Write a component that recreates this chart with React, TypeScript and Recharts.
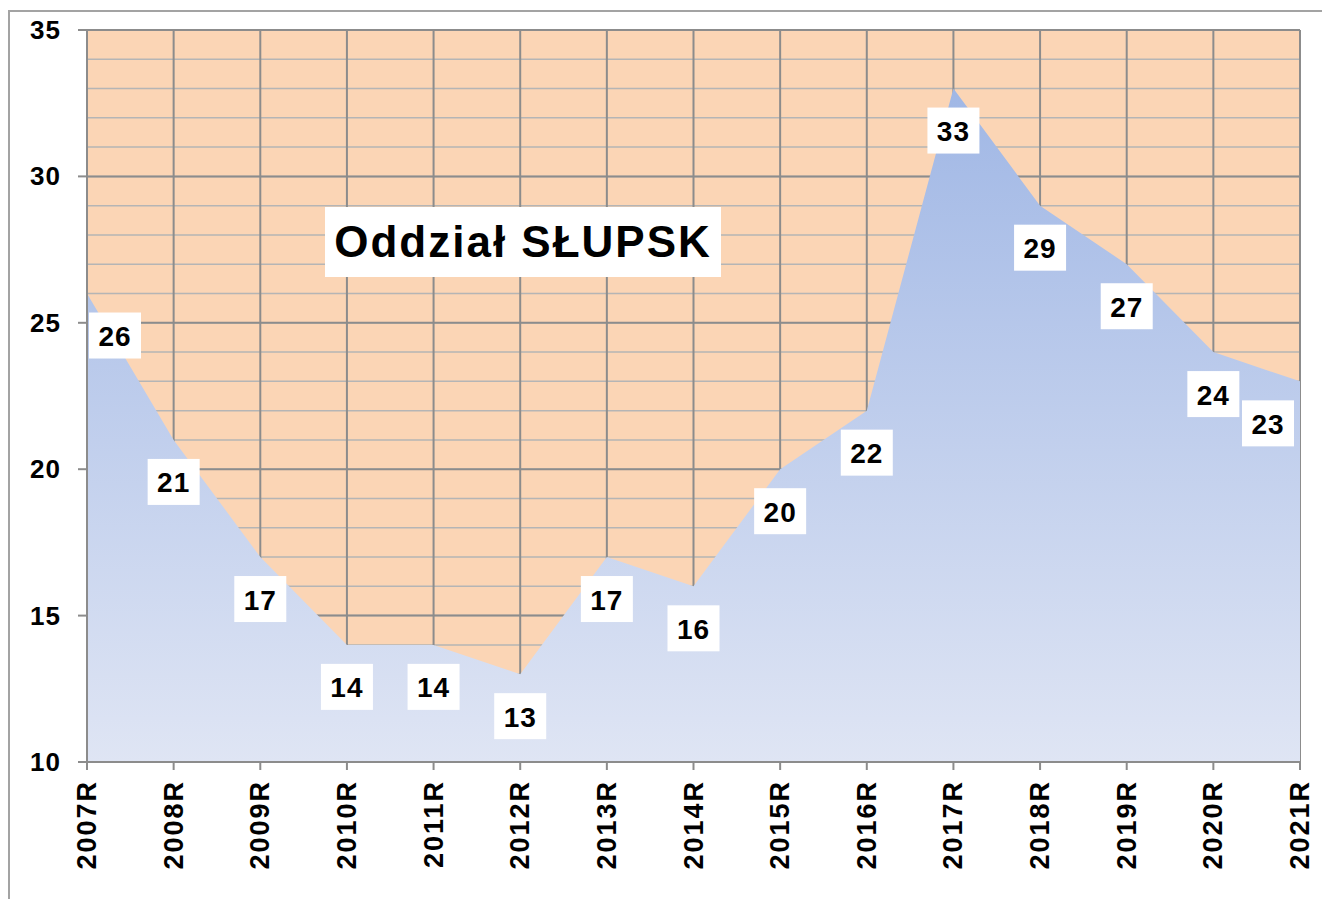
import { AreaChart, Area, XAxis, YAxis, CartesianGrid, LabelList } from "recharts";

const years = [
  "2007R", "2008R", "2009R", "2010R", "2011R", "2012R", "2013R", "2014R",
  "2015R", "2016R", "2017R", "2018R", "2019R", "2020R", "2021R",
];
const counts = [26, 21, 17, 14, 14, 13, 17, 16, 20, 22, 33, 29, 27, 24, 23];
const majorTicks = [10, 15, 20, 25, 30, 35];
const minorTicks = [
  10, 11, 12, 13, 14, 15, 16, 17, 18, 19, 20, 21, 22,
  23, 24, 25, 26, 27, 28, 29, 30, 31, 32, 33, 34, 35,
];
const chartTitle = "Oddział SŁUPSK";

const chartData = years.map((year, i) => ({ year, count: counts[i] }));

const font = "Arial, 'Liberation Sans', sans-serif";
const axisGray = "#8c8c8c";

function YearTick({ x, y, payload }: any) {
  return (
    <text
      x={x}
      y={y}
      transform={`rotate(-90 ${x} ${y})`}
      textAnchor="end"
      dominantBaseline="central"
      fontFamily={font}
      fontWeight="bold"
      fontSize={27}
      letterSpacing={2}
      fill="#000"
    >
      {payload.value}
    </text>
  );
}

function ValueTick({ x, y, payload }: any) {
  return (
    <text
      x={x}
      y={y}
      textAnchor="end"
      dominantBaseline="central"
      fontFamily={font}
      fontWeight="bold"
      fontSize={26}
      letterSpacing={1}
      fill="#000"
    >
      {payload.value}
    </text>
  );
}

function ValueLabel({ x, y, value, index }: any) {
  let cx = x;
  if (index === 0) cx = x + 28;
  if (index === counts.length - 1) cx = x - 32;
  const cy = y + 42;
  return (
    <g>
      <rect x={cx - 26} y={cy - 23} width={52} height={46} fill="#fff" />
      <text
        x={cx}
        y={cy + 1}
        textAnchor="middle"
        dominantBaseline="central"
        fontFamily={font}
        fontWeight="bold"
        fontSize={28}
        letterSpacing={1}
        fill="#000"
      >
        {value}
      </text>
    </g>
  );
}

export default function App() {
  return (
    <div
      style={{
        position: "fixed",
        left: 0,
        top: 0,
        width: 1322,
        height: 899,
        overflow: "hidden",
        background: "#fff",
        fontFamily: font,
      }}
    >
      <div
        style={{
          position: "absolute",
          left: 8,
          top: 10,
          width: 1400,
          height: 1000,
          borderLeft: "2px solid #a3a3a3",
          borderTop: "2px solid #a3a3a3",
        }}
      />
      <div style={{ position: "absolute", left: 8, top: 8 }}>
        <AreaChart
          width={1314}
          height={891}
          data={chartData}
          margin={{ top: 22, right: 22, bottom: 0, left: 0 }}
        >
          <defs>
            <linearGradient id="areaFill" x1="0" y1="0" x2="0" y2="1">
              <stop offset="0%" stopColor="#a0b7e5" />
              <stop offset="100%" stopColor="#dfe5f4" />
            </linearGradient>
          </defs>
          <CartesianGrid
            fill="#fbd5b5"
            fillOpacity={1}
            vertical={false}
            horizontalValues={minorTicks}
            stroke="#b5b5b5"
            strokeWidth={1.5}
          />
          <CartesianGrid
            horizontalValues={majorTicks}
            stroke={axisGray}
            strokeWidth={2}
          />
          <XAxis
            dataKey="year"
            height={137}
            interval={0}
            tickSize={8}
            tickMargin={10}
            axisLine={{ stroke: axisGray, strokeWidth: 2 }}
            tickLine={{ stroke: axisGray, strokeWidth: 2 }}
            tick={<YearTick />}
          />
          <YAxis
            width={79}
            domain={[10, 35]}
            ticks={majorTicks}
            allowDataOverflow
            tickSize={9}
            tickMargin={17}
            axisLine={{ stroke: axisGray, strokeWidth: 2 }}
            tickLine={{ stroke: axisGray, strokeWidth: 2 }}
            tick={<ValueTick />}
          />
          <Area
            type="linear"
            dataKey="count"
            stroke="none"
            fill="url(#areaFill)"
            fillOpacity={1}
            isAnimationActive={false}
          >
            <LabelList dataKey="count" content={<ValueLabel />} />
          </Area>
        </AreaChart>
      </div>
      <div
        style={{
          position: "absolute",
          left: 325,
          top: 207,
          width: 396,
          height: 70,
          background: "#fff",
          display: "flex",
          alignItems: "center",
          justifyContent: "center",
          fontFamily: font,
          fontWeight: "bold",
          fontSize: 44,
          letterSpacing: 2,
          color: "#000",
          whiteSpace: "nowrap",
        }}
      >
        {chartTitle}
      </div>
    </div>
  );
}
